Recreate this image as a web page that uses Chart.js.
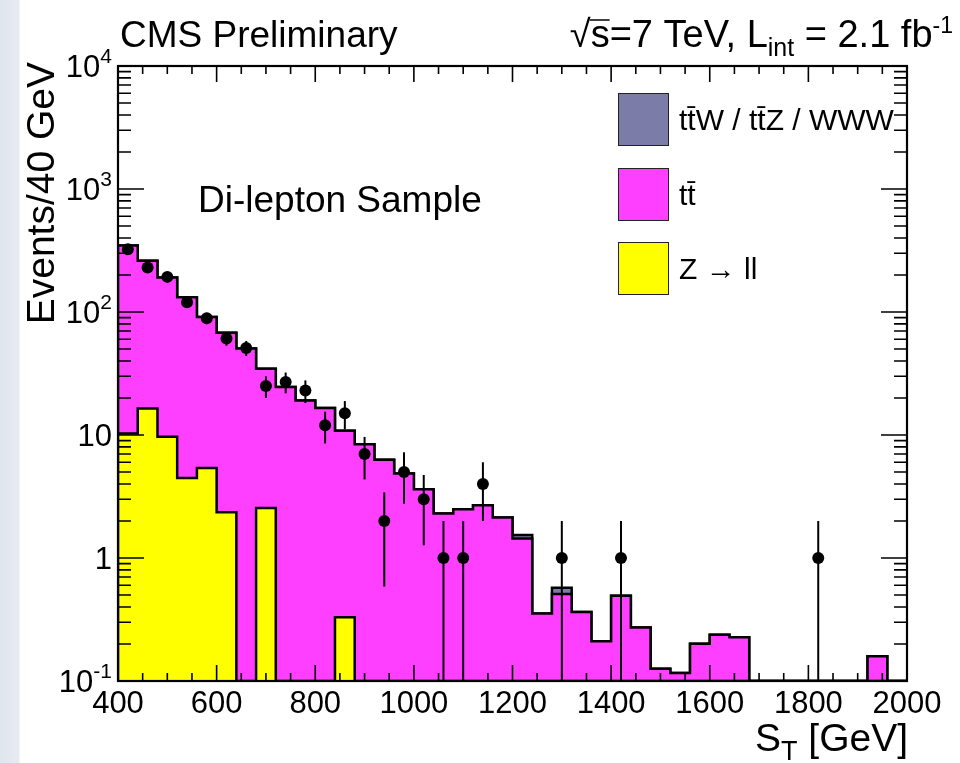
<!DOCTYPE html>
<html>
<head>
<meta charset="utf-8">
<script src="https://cdn.jsdelivr.net/npm/chart.js@4.4.1/dist/chart.umd.min.js"></script>
<style>
  html, body { margin: 0; padding: 0; }
  body {
    width: 960px; height: 763px; overflow: hidden;
    background: linear-gradient(to right, #e0e6ed 0px, #e7ebf1 19px, #ffffff 20px);
  }
  canvas { display: block; }
</style>
</head>
<body>
<canvas id="stChart" width="960" height="763"></canvas>
<script>
// S_T spectrum, di-lepton sample, 40 GeV bins from 400 to 2000 GeV
const binLowEdges = [400, 440, 480, 520, 560, 600, 640, 680, 720, 760,
                     800, 840, 880, 920, 960, 1000, 1040, 1080, 1120, 1160,
                     1200, 1240, 1280, 1320, 1360, 1400, 1440, 1480, 1520, 1560,
                     1600, 1640, 1680, 1720, 1760, 1800, 1840, 1880, 1920, 1960];
const BIN_WIDTH = 40;

// observed events per bin
const dataEvents = [324, 230, 193, 120, 89, 61, 51, 25, 27, 23,
                    12, 15, 7, 2, 5, 3, 1, 1, 4, 0,
                    0, 0, 1, 0, 0, 1, 0, 0, 0, 0,
                    0, 0, 0, 0, 0, 1, 0, 0, 0, 0];

// Z -> ll (bottom of the stack)
const zToLL = [10.3, 16.4, 9.7, 4.47, 5.39, 2.36, 0, 2.55, 0, 0,
               0, 0.33, 0, 0, 0, 0, 0, 0, 0, 0,
               0, 0, 0, 0, 0, 0, 0, 0, 0, 0,
               0, 0, 0, 0, 0, 0, 0, 0, 0, 0];

// ttbar
const ttbar = [337, 245, 181, 127.5, 85.6, 65.6, 50.4, 32.0, 24.6, 19.1,
               16.6, 10.5, 8.4, 6.3, 4.86, 3.62, 2.30, 2.49, 2.69, 2.13,
               1.44, 0.353, 0.51, 0.364, 0.21, 0.494, 0.272, 0.126, 0.116, 0.201,
               0.238, 0.227, 0, 0, 0, 0, 0, 0, 0.159, 0];

// ttW / ttZ / WWW (top of the stack)
const ttV = [0, 0, 0, 0, 0, 0, 0, 0, 0, 0,
             0, 0, 0, 0, 0, 0, 0, 0, 0, 0,
             0.10, 0, 0.063, 0, 0, 0, 0, 0, 0, 0,
             0, 0, 0, 0, 0, 0, 0, 0, 0, 0];

const xTickValues = [400, 600, 800, 1000, 1200, 1400, 1600, 1800, 2000];
const yTickValues = [0.1, 1, 10, 100, 1000, 10000];
const yTickLabels = [['10', '-1'], ['1', ''], ['10', ''], ['10', '2'], ['10', '3'], ['10', '4']];

const legendLabels = ['t' + 't\u0304' + 'W / t' + 't\u0304' + 'Z / WWW', 't' + 't\u0304', 'Z \u2192 ll'];

const X_MIN = 400, X_MAX = 2000, Y_MIN = 0.1, Y_MAX = 10000;
const FONT = '"Liberation Sans", Arial, Helvetica, sans-serif';
const YELLOW = '#ffff00', MAGENTA = '#ff3fff', GREY = '#7b7da8';

// cumulative stack
const stackZ = zToLL.slice();
const stackTT = zToLL.map((v, i) => v + ttbar[i]);
const stackAll = stackTT.map((v, i) => v + ttV[i]);

// histogram outline as points at the low edges, drawn as a stepped line
function stepOutline(values) {
  const pts = [{x: binLowEdges[0], y: Y_MIN}];
  values.forEach((v, i) => pts.push({x: binLowEdges[i], y: Math.max(v, Y_MIN)}));
  pts.push({x: binLowEdges[values.length - 1] + BIN_WIDTH, y: Y_MIN});
  return pts;
}

const dataPoints = [];
dataEvents.forEach((n, i) => {
  if (n > 0) dataPoints.push({x: binLowEdges[i] + BIN_WIDTH / 2, y: n});
});

function histo(label, values, colour) {
  return {
    type: 'line', label: label, data: stepOutline(values),
    stepped: true, fill: 'start', backgroundColor: colour,
    borderColor: '#000', borderWidth: 2.5, borderJoinStyle: 'miter',
    pointRadius: 0, pointHoverRadius: 0
  };
}

// draws text made of pieces [text, size, dy]
function richText(ctx, parts, x, y, align) {
  let total = 0;
  parts.forEach(p => { ctx.font = p[1] + 'px ' + FONT; total += ctx.measureText(p[0]).width; });
  let cx = align === 'right' ? x - total : (align === 'center' ? x - total / 2 : x);
  ctx.textAlign = 'left';
  ctx.textBaseline = 'alphabetic';
  parts.forEach(p => {
    ctx.font = p[1] + 'px ' + FONT;
    ctx.fillText(p[0], cx, y + (p[2] || 0));
    cx += ctx.measureText(p[0]).width;
  });
  return cx;
}

const decorations = {
  id: 'decorations',
  afterDatasetsDraw(chart) {
    // poisson error bars on data
    const ctx = chart.ctx, xs = chart.scales.x, ys = chart.scales.y, area = chart.chartArea;
    ctx.save();
    ctx.strokeStyle = '#000';
    ctx.lineWidth = 2;
    dataPoints.forEach(p => {
      const err = Math.sqrt(p.y);
      const px = xs.getPixelForValue(p.x);
      const top = Math.max(ys.getPixelForValue(p.y + err), area.top);
      const bot = p.y - err > Y_MIN ? ys.getPixelForValue(p.y - err) : area.bottom;
      ctx.beginPath();
      ctx.moveTo(px, top);
      ctx.lineTo(px, bot);
      ctx.stroke();
    });
    ctx.restore();
  },
  afterDraw(chart) {
    const ctx = chart.ctx, xs = chart.scales.x, ys = chart.scales.y, a = chart.chartArea;
    ctx.save();
    ctx.strokeStyle = '#000';
    ctx.fillStyle = '#000';

    // ticks on all four sides, pointing inwards
    ctx.lineWidth = 1.6;
    ctx.beginPath();
    for (let v = X_MIN; v <= X_MAX; v += 50) {
      const len = v % 200 === 0 ? 16 : 8;
      const px = xs.getPixelForValue(v);
      ctx.moveTo(px, a.bottom); ctx.lineTo(px, a.bottom - len);
      ctx.moveTo(px, a.top); ctx.lineTo(px, a.top + len);
    }
    for (let d = -1; d <= 3; d++) {
      for (let k = 1; k <= 9; k++) {
        const py = ys.getPixelForValue(k * Math.pow(10, d));
        const len = k === 1 ? 26 : 13;
        ctx.moveTo(a.left, py); ctx.lineTo(a.left + len, py);
        ctx.moveTo(a.right, py); ctx.lineTo(a.right - len, py);
      }
    }
    ctx.stroke();

    // frame
    ctx.lineWidth = 2.2;
    ctx.strokeRect(a.left, a.top, a.right - a.left, a.bottom - a.top);

    // x tick labels
    ctx.font = '31px ' + FONT;
    ctx.textAlign = 'center';
    ctx.textBaseline = 'alphabetic';
    xTickValues.forEach(v => ctx.fillText(String(v), xs.getPixelForValue(v), 713));

    // y tick labels
    yTickValues.forEach((v, i) => {
      const py = ys.getPixelForValue(v);
      const lab = yTickLabels[i];
      const parts = [[lab[0], 31, 0]];
      if (lab[1]) parts.push([lab[1], 21, -14]);
      richText(ctx, parts, 112, py + 11, 'right');
    });

    // axis titles
    ctx.save();
    ctx.translate(54, 62);
    ctx.rotate(-Math.PI / 2);
    ctx.font = '39px ' + FONT;
    ctx.textAlign = 'right';
    ctx.fillText('Events/40 GeV', 0, 0);
    ctx.restore();
    richText(ctx, [['S', 39, 0], ['T', 27, 9], [' [GeV]', 39, 0]], 908, 751, 'right');

    // header
    richText(ctx, [['CMS Preliminary', 37, 0]], 120, 47, 'left');
    const right = [['s=7 TeV, L', 38, 0], ['int', 25, 9], [' = 2.1 fb', 38, 0], ['-1', 23, -14]];
    let w = 0;
    right.forEach(p => { ctx.font = p[1] + 'px ' + FONT; w += ctx.measureText(p[0]).width; });
    ctx.font = '38px ' + FONT;
    const startX = 953 - w - ctx.measureText('\u221a').width;
    ctx.fillText('\u221a', startX, 47);
    const sX = startX + ctx.measureText('\u221a').width;
    ctx.lineWidth = 1.5;
    ctx.beginPath();
    ctx.moveTo(sX - 1, 20);
    ctx.lineTo(sX + ctx.measureText('s').width, 20);
    ctx.stroke();
    richText(ctx, right, sX, 47, 'left');

    // sample label
    richText(ctx, [['Di-lepton Sample', 37, 0]], 198, 212, 'left');

    // legend
    const colours = [GREY, MAGENTA, YELLOW];
    const boxTops = [93, 168, 242];
    legendLabels.forEach((lab, i) => {
      ctx.fillStyle = colours[i];
      ctx.fillRect(618, boxTops[i], 50, 52);
      ctx.strokeStyle = '#222';
      ctx.lineWidth = 1;
      ctx.strokeRect(618.5, boxTops[i] + 0.5, 50, 52);
      ctx.fillStyle = '#000';
      ctx.font = '30px ' + FONT;
      ctx.textAlign = 'left';
      ctx.fillText(lab, 679, boxTops[i] + 37);
    });
    ctx.restore();
  }
};

new Chart(document.getElementById('stChart'), {
  type: 'line',
  data: {
    datasets: [
      {
        type: 'scatter', label: 'Data', data: dataPoints, showLine: false,
        pointRadius: 6, pointHoverRadius: 6, pointBackgroundColor: '#000', pointBorderWidth: 0
      },
      histo('Z \u2192 ll', stackZ, YELLOW),
      histo('ttbar', stackTT, MAGENTA),
      histo('ttW / ttZ / WWW', stackAll, GREY)
    ]
  },
  options: {
    responsive: false,
    animation: false,
    devicePixelRatio: 1,
    layout: { padding: { left: 118, top: 66, right: 53, bottom: 82 } },
    plugins: { legend: { display: false }, tooltip: { enabled: false } },
    scales: {
      x: { type: 'linear', min: X_MIN, max: X_MAX, display: false },
      y: { type: 'logarithmic', min: Y_MIN, max: Y_MAX, display: false }
    }
  },
  plugins: [decorations]
});
</script>
</body>
</html>
